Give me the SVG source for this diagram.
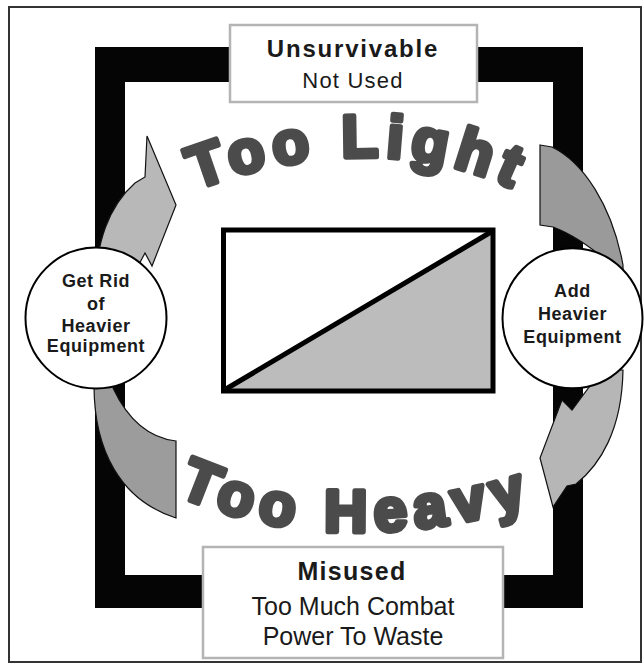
<svg xmlns="http://www.w3.org/2000/svg" width="644" height="666" viewBox="0 0 644 666">
<style>
.big{font-family:"Liberation Sans",Arial,sans-serif;font-weight:bold;font-size:60px;fill:#4b4b4b;stroke:#4b4b4b;stroke-width:5;stroke-linejoin:round}
.lbl{font-family:"Liberation Sans",Arial,sans-serif;fill:#1a1a1a;text-anchor:middle}
.circ{fill:#fff;stroke:#000;stroke-width:2}
.ctext{font-family:"Liberation Sans",Arial,sans-serif;font-weight:bold;font-size:18px;fill:#1a1a1a;text-anchor:middle;letter-spacing:0.6px}
.box{fill:#fff;stroke:#b4b4b4;stroke-width:2.5}
.arr{stroke:#111;stroke-width:1.2;stroke-linejoin:miter}
</style>
<defs>
<path id="arcTop" d="M 167.1,202 A 480 480 0 0 1 370,157 A 340 340 0 0 1 565,218.5"/>
<path id="arcBot" d="M 150.1,481.7 A 430 430 0 0 0 352,532 A 600 600 0 0 0 576.8,488.3"/>
</defs>
<rect x="0" y="0" width="644" height="666" fill="#fff"/>
<rect id="border" x="9" y="7" width="632" height="655" fill="none" stroke="#333" stroke-width="2"/>
<path id="frame" fill="#050505" fill-rule="evenodd" d="M95,47 H583 V608 H95 Z M125,82 V575 H553 V82 Z"/>
<g id="connectors">
<path class="arr" fill="#b8b8b8" d="M147,136 L176,205 L152,266 L145,253 L120,300 L94,300 C95,240 110,205 135,183 L145,177 Z"/>
<path class="arr" fill="#9c9c9c" d="M94,330 L120,330 L113,388 C128,420 150,438 176,441 L176,518 C120,500 94,450 94,385 Z"/>
<path class="arr" fill="#9a9a9a" d="M540,145 L552,147 C583,162 612,205 623,265 L623,300 L600,300 L600,255 C588,246 572,234 553,227 L540,225 Z"/>
<path class="arr" fill="#b6b6b6" d="M592,370 L592,383 L572,410 L562,400 L540,458 L553,507 L567,486 L576,484 C600,465 622,430 623,370 Z"/>
</g>
<g id="left-node">
<circle class="circ" cx="96" cy="318" r="70.5"/>
<text class="ctext"><tspan x="96" y="287">Get Rid</tspan><tspan x="96" y="310">of</tspan><tspan x="96" y="332">Heavier</tspan><tspan x="96" y="352">Equipment</tspan></text>
</g>
<g id="right-node">
<circle class="circ" cx="572.5" cy="318.3" r="70"/>
<text class="ctext"><tspan x="572.5" y="297">Add</tspan><tspan x="572.5" y="319.5">Heavier</tspan><tspan x="572.5" y="342.5">Equipment</tspan></text>
</g>
<g id="center-node">
<rect x="223.5" y="230" width="269.5" height="161" fill="#fff"/>
<path d="M226,389 L491,232 L491,389 Z" fill="#bcbcbc"/>
<line x1="226" y1="389" x2="491" y2="232" stroke="#000" stroke-width="5"/>
<rect x="223.5" y="230" width="269.5" height="161" fill="none" stroke="#000" stroke-width="5"/>
</g>
<g id="too-light">
<text class="big" letter-spacing="7"><textPath href="#arcTop" startOffset="31">Too Light</textPath></text>
</g>
<g id="too-heavy">
<text class="big" letter-spacing="7.5"><textPath href="#arcBot" startOffset="30">Too Heavy</textPath></text>
</g>
<g id="top-node">
<rect class="box" x="230" y="25" width="247" height="77"/>
<text class="lbl" x="353" y="57" font-size="24" font-weight="bold" letter-spacing="1.8">Unsurvivable</text>
<text class="lbl" x="353" y="88" font-size="22" letter-spacing="1.2">Not Used</text>
</g>
<g id="bottom-node">
<rect class="box" x="203" y="547" width="300" height="111"/>
<text class="lbl" x="352" y="580" font-size="25" font-weight="bold" letter-spacing="1.3">Misused</text>
<text class="lbl" x="353" y="615" font-size="25">Too Much Combat</text>
<text class="lbl" x="353" y="645" font-size="25">Power To Waste</text>
</g>
</svg>
